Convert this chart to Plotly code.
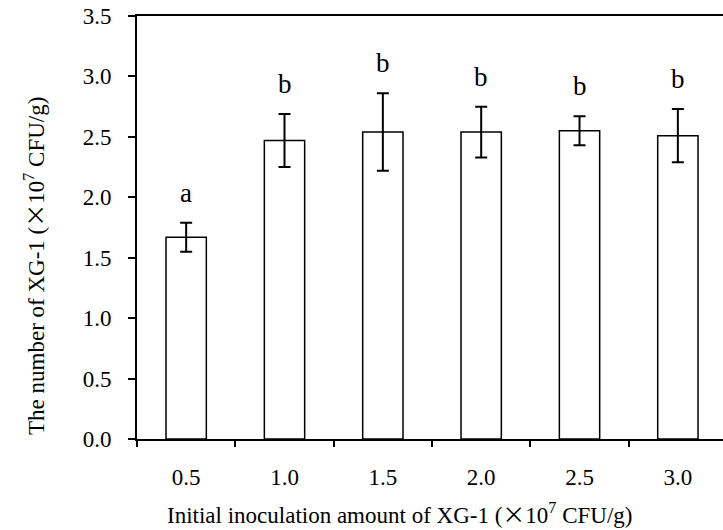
import plotly.graph_objects as go

categories = ["0.5", "1.0", "1.5", "2.0", "2.5", "3.0"]
means = [1.67, 2.47, 2.54, 2.54, 2.55, 2.51]
errors = [0.12, 0.22, 0.32, 0.21, 0.12, 0.22]
letters = ["a", "b", "b", "b", "b", "b"]
y_ticks = [0.0, 0.5, 1.0, 1.5, 2.0, 2.5, 3.0, 3.5]

FONT = "Liberation Serif"
TIMES_X = '<span style="font-family:Noto Sans CJK SC">×</span>'

fig = go.Figure()
fig.add_trace(go.Bar(
    x=list(range(len(categories))), y=means, width=0.41,
    marker=dict(color="white", line=dict(color="black", width=1.5)),
    error_y=dict(type="data", array=errors, visible=True,
                 color="black", thickness=2, width=6),
    showlegend=False,
))

for i, (m, e, l) in enumerate(zip(means, errors, letters)):
    fig.add_annotation(x=i, y=m + e, text=l, showarrow=False,
                       xref="x", yref="y", yanchor="bottom", yshift=13,
                       font=dict(family=FONT, size=27, color="black"))

fig.add_annotation(xref="paper", yref="paper", x=0.4488, y=-0.175,
                   xanchor="center", yanchor="middle", showarrow=False,
                   text=f"Initial inoculation amount of XG-1 ({TIMES_X}10<sup>7</sup> CFU/g)",
                   font=dict(family=FONT, size=23, color="black"))
fig.add_annotation(xref="paper", yref="paper", x=-0.1758, y=0.409,
                   xanchor="center", yanchor="middle", showarrow=False, textangle=-90,
                   text=f"The number of XG-1 ({TIMES_X}10<sup>7</sup> CFU/g)",
                   font=dict(family=FONT, size=23, color="black"))

fig.update_layout(
    width=723, height=530,
    margin=dict(l=137, r=0, t=16, b=91),
    plot_bgcolor="white", paper_bgcolor="white",
    font=dict(family=FONT, size=23, color="black"),
    xaxis=dict(range=[-0.5, 5.459],
               tickvals=list(range(len(categories))), ticktext=categories,
               ticks="", showline=True, linecolor="black", linewidth=2, mirror=True,
               showgrid=False, zeroline=False, ticklabelstandoff=16),
    xaxis2=dict(overlaying="x", matches="x", range=[-0.5, 5.459],
                tickvals=[i - 0.5 for i in range(len(categories) + 1)],
                showticklabels=False, ticks="outside", ticklen=7, tickwidth=2,
                tickcolor="black", showgrid=False, zeroline=False, anchor="y"),
    yaxis=dict(range=[0, 3.5], tickvals=y_ticks, tickformat=".1f",
               ticks="outside", ticklen=7, tickwidth=2, tickcolor="black",
               showline=True, linecolor="black", linewidth=2,
               showgrid=False, zeroline=False, ticklabelstandoff=12),
)
fig.add_trace(go.Scatter(x=[None], y=[None], xaxis="x2", showlegend=False))

fig.write_html("out.html")
